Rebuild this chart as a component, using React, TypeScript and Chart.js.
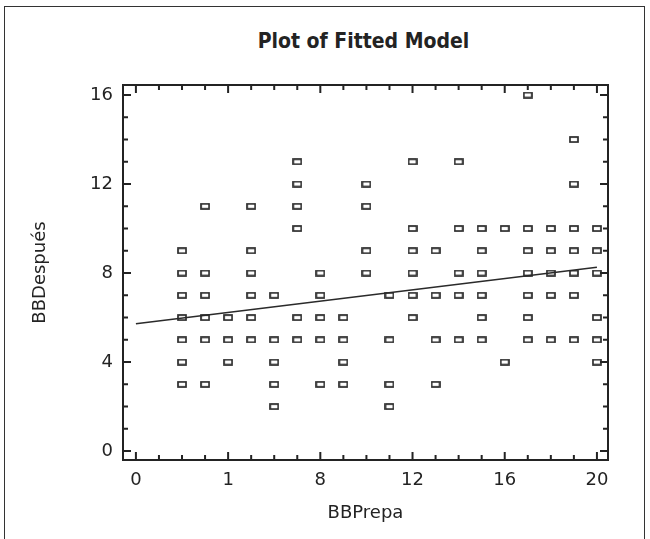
import React, { useEffect, useRef } from 'react';
import { Chart, registerables } from 'chart.js';

Chart.register(...registerables);

// BBPrepa column values
const xColumns = [2, 3, 4, 5, 6, 7, 8, 9, 10, 11, 12, 13, 14, 15, 16, 17, 18, 19, 20];
// BBDespués values observed at each BBPrepa column
const yColumns = [
  [3, 4, 5, 6, 7, 8, 9],
  [3, 5, 6, 7, 8, 11],
  [4, 5, 6],
  [5, 6, 7, 8, 9, 11],
  [2, 3, 4, 5, 7],
  [5, 6, 10, 11, 12, 13],
  [3, 5, 6, 7, 8],
  [3, 4, 5, 6],
  [8, 9, 11, 12],
  [2, 3, 5, 7],
  [6, 7, 8, 9, 10, 13],
  [3, 5, 7, 9],
  [5, 7, 8, 10, 13],
  [5, 6, 7, 8, 9, 10],
  [4, 10],
  [5, 6, 7, 8, 9, 10, 16],
  [5, 7, 8, 9, 10],
  [5, 7, 8, 9, 10, 12, 14],
  [4, 5, 6, 8, 9, 10],
];

// fitted model line
const fitX = [0, 20];
const fitY = [5.72, 8.26];

// tick labels
const xTickValues = [0, 4, 8, 12, 16, 20];
const xTickLabels = ['0', '1', '8', '12', '16', '20'];
const yTickValues = [0, 4, 8, 12, 16];
const yTickLabels = ['0', '4', '8', '12', '16'];

const titleText = 'Plot of Fitted Model';
const xTitle = 'BBPrepa';
const yTitle = 'BBDespués';

const FONT = '"DejaVu Sans", sans-serif';
const INK = '#232323';

function makeMarker(): HTMLCanvasElement {
  const c = document.createElement('canvas');
  c.width = 10;
  c.height = 7;
  const ctx = c.getContext('2d')!;
  ctx.strokeStyle = '#2a2a2a';
  ctx.lineWidth = 1.7;
  ctx.strokeRect(1, 1, 8, 5);
  return c;
}

const frameTicksPlugin = {
  id: 'frameTicks',
  afterDatasetsDraw(chart: any) {
    const { ctx, chartArea } = chart;
    const { left, right, top, bottom } = chartArea;
    const xs = chart.scales.x;
    const ys = chart.scales.y;
    ctx.save();
    ctx.strokeStyle = INK;
    ctx.lineWidth = 2;
    ctx.lineCap = 'butt';
    ctx.beginPath();
    for (const t of xs.ticks) {
      const px = xs.getPixelForValue(t.value);
      const len = t.value % 4 === 0 ? 8 : 5;
      ctx.moveTo(px, bottom);
      ctx.lineTo(px, bottom - len);
      ctx.moveTo(px, top);
      ctx.lineTo(px, top + len);
    }
    for (const t of ys.ticks) {
      const py = ys.getPixelForValue(t.value);
      const len = t.value % 4 === 0 ? 8 : 5;
      ctx.moveTo(left, py);
      ctx.lineTo(left + len, py);
      ctx.moveTo(right, py);
      ctx.lineTo(right - len, py);
    }
    ctx.stroke();
    ctx.lineWidth = 2;
    ctx.strokeRect(left, top, right - left, bottom - top);
    ctx.restore();
  },
};

export default function App() {
  const canvasRef = useRef<HTMLCanvasElement | null>(null);

  useEffect(() => {
    if (!canvasRef.current) return;
    const marker = makeMarker();
    const points: { x: number; y: number }[] = [];
    xColumns.forEach((xv, i) => {
      yColumns[i].forEach((yv) => points.push({ x: xv, y: yv }));
    });
    const fitPoints = fitX.map((xv, i) => ({ x: xv, y: fitY[i] }));

    const chart = new Chart(canvasRef.current, {
      type: 'scatter',
      data: {
        datasets: [
          {
            label: 'Observed',
            data: points,
            pointStyle: marker as any,
            pointRadius: 4,
            pointHoverRadius: 4,
            showLine: false,
          },
          {
            label: 'Fitted',
            data: fitPoints,
            showLine: true,
            borderColor: '#2a2a2a',
            borderWidth: 1.6,
            pointRadius: 0,
            pointHoverRadius: 0,
            fill: false,
          },
        ],
      },
      options: {
        animation: false,
        responsive: false,
        maintainAspectRatio: false,
        events: [],
        layout: { padding: { top: 85, right: 42, left: 0, bottom: 0 } },
        plugins: {
          legend: { display: false },
          tooltip: { enabled: false },
          title: { display: false },
        },
        scales: {
          x: {
            type: 'linear',
            min: -0.56,
            max: 20.48,
            grid: { display: false, drawTicks: false },
            border: { display: false },
            ticks: {
              stepSize: 1,
              includeBounds: false,
              autoSkip: false,
              maxRotation: 0,
              padding: 10,
              color: INK,
              font: { family: FONT, size: 18 },
              callback: (v: any) => {
                const idx = xTickValues.indexOf(Number(v));
                return idx >= 0 ? xTickLabels[idx] : '';
              },
            },
            title: {
              display: true,
              text: xTitle,
              color: INK,
              font: { family: FONT, size: 18 },
              padding: { top: 0, bottom: 15 },
            },
            afterFit: (scale: any) => {
              scale.height = 79;
            },
          },
          y: {
            type: 'linear',
            min: -0.4,
            max: 16.45,
            grid: { display: false, drawTicks: false },
            border: { display: false },
            ticks: {
              stepSize: 1,
              includeBounds: false,
              autoSkip: false,
              padding: 10,
              color: INK,
              font: { family: FONT, size: 18 },
              callback: (v: any) => {
                const idx = yTickValues.indexOf(Number(v));
                return idx >= 0 ? yTickLabels[idx] : '';
              },
            },
            title: {
              display: true,
              text: yTitle,
              color: INK,
              font: { family: FONT, size: 18 },
              padding: { top: 30, bottom: 0 },
            },
            afterFit: (scale: any) => {
              scale.width = 123;
            },
          },
        },
      },
      plugins: [frameTicksPlugin],
    });
    return () => chart.destroy();
  }, []);

  return (
    <div style={{ position: 'absolute', left: 0, top: 0, width: 650, height: 539, background: '#fff', overflow: 'hidden' }}>
      <div
        style={{
          position: 'absolute',
          left: 4,
          top: 6,
          width: 641,
          height: 560,
          borderTop: '1.5px solid #333',
          borderLeft: '1.5px solid #333',
          borderRight: '1.5px solid #333',
          boxSizing: 'border-box',
        }}
      />
      <div
        style={{
          position: 'absolute',
          left: 121,
          width: 485,
          top: 28,
          lineHeight: '26px',
          textAlign: 'center',
          fontFamily: '"DejaVu Sans Condensed", "DejaVu Sans", sans-serif',
          fontStretch: 'condensed',
          fontWeight: 'bold',
          fontSize: 21,
          color: INK,
        }}
      >
        {titleText}
      </div>
      <canvas ref={canvasRef} width={650} height={539} style={{ position: 'absolute', left: 0, top: 0, display: 'block' }} />
    </div>
  );
}
